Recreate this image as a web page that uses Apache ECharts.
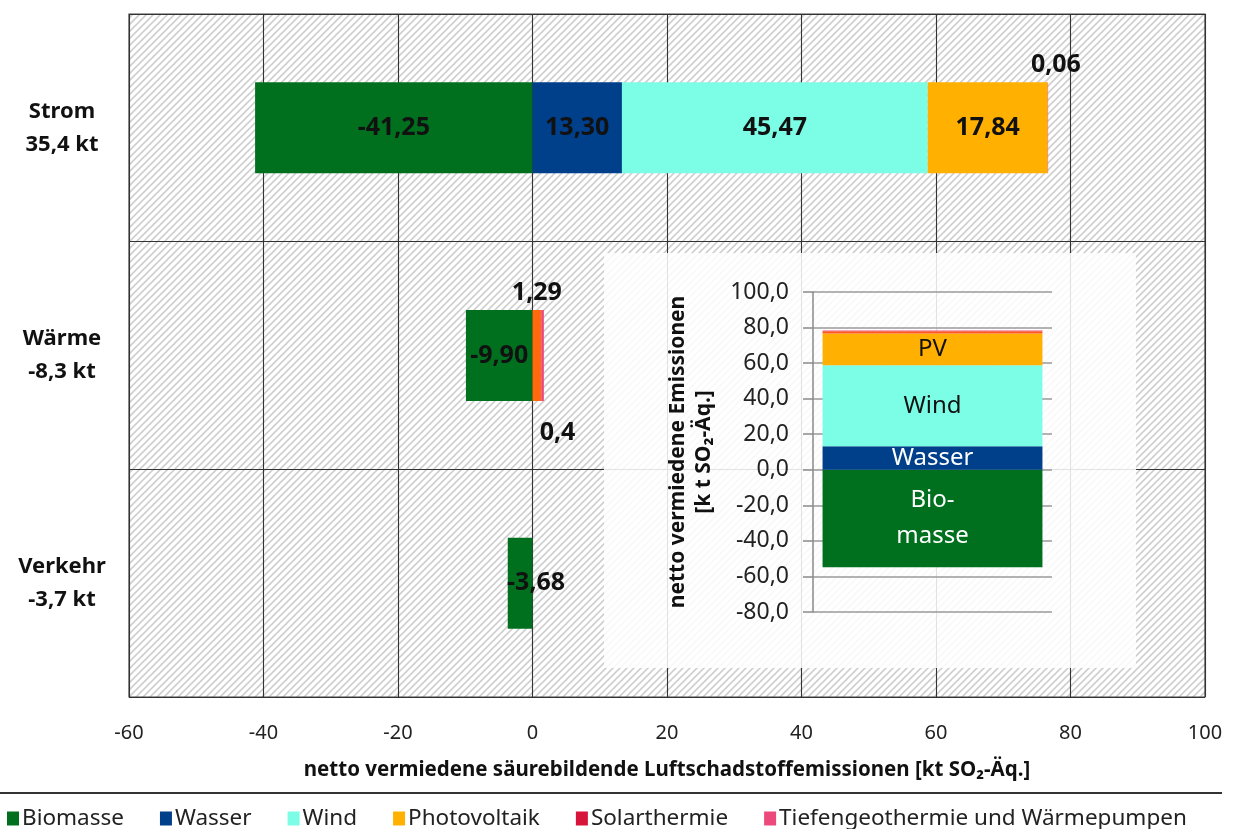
<!DOCTYPE html>
<html><head><meta charset="utf-8">
<script src="https://cdn.jsdelivr.net/npm/echarts@6/dist/echarts.min.js"></script>
<style>html,body{margin:0;padding:0;background:#fff}#c{width:1235px;height:829px}</style>
</head><body><div id="c"></div>
<script>
// ---- data ----
const sectors = ['Strom', 'Wärme', 'Verkehr'];
const sectorLabels = ['Strom\n35,4 kt', 'Wärme\n-8,3 kt', 'Verkehr\n-3,7 kt'];
const biomasse = [-41.25, -9.90, -3.68];
const wasser = [13.30, 0, 0];
const wind = [45.47, 0, 0];
const photovoltaik = [17.84, 0, 0];
const solarthermie = [0, 1.29, 0];
const tiefengeo = [0.06, 0.4, 0];
const xTicks = [-60, -40, -20, 0, 20, 40, 60, 80, 100];
const insetTicks = [-80, -60, -40, -20, 0, 20, 40, 60, 80, 100];
const seriesNames = ['Biomasse', 'Wasser', 'Wind', 'Photovoltaik', 'Solarthermie', 'Tiefengeothermie und Wärmepumpen'];
const seriesData = [biomasse, wasser, wind, photovoltaik, solarthermie, tiefengeo];

// ---- styles ----
const colors = ['#00701f', '#003f8a', '#7bfde6', '#ffb000', '#d7153a', '#ec4a7c'];
const FONT = 'Noto Sans';
const fmt2 = v => v.toFixed(2).replace('.', ',');
const fmtLbl = v => (Math.round(v * 100) / 100).toString().replace('.', ',');

// hatch pattern
const pc = document.createElement('canvas');
pc.width = 7; pc.height = 7;
const px = pc.getContext('2d');
px.fillStyle = '#ffffff'; px.fillRect(0, 0, 7, 7);
px.strokeStyle = '#cfcfcf'; px.lineWidth = 1.6;
px.beginPath();
px.moveTo(-1, 8); px.lineTo(8, -1);
px.moveTo(-4, 4); px.lineTo(4, -4);
px.moveTo(3, 11); px.lineTo(11, 3);
px.stroke();

const lblBase = {show: true, fontFamily: FONT, fontWeight: 'bold', fontSize: 25, color: '#111'};
// label settings per series & category index
const labelOpts = {
  0: {0: {position: 'inside'}, 1: {position: 'inside'}, 2: {position: 'inside', offset: [16, 0]}},
  1: {0: {position: 'inside'}},
  2: {0: {position: 'inside'}},
  3: {0: {position: 'inside'}},
  4: {1: {position: 'top', offset: [0, 0]}},
  5: {0: {position: 'top', offset: [8, 0], formatter: p => fmt2(p.value)}, 1: {position: 'bottom', offset: [15, 14], formatter: p => fmtLbl(p.value)}}
};
const itemColorOverride = {4: {1: '#ff6a0d'}};

const mainSeries = seriesData.map((arr, si) => ({
  name: seriesNames[si], type: 'bar', stack: 'total', xAxisIndex: 0, yAxisIndex: 0,
  barWidth: '40%', z: 3,
  itemStyle: {color: colors[si]},
  data: arr.map((v, i) => {
    const item = {value: v === 0 ? '-' : v};
    const lo = labelOpts[si] && labelOpts[si][i];
    item.label = lo ? Object.assign({}, lblBase, {formatter: p => fmt2(p.value)}, lo) : {show: false};
    const co = itemColorOverride[si] && itemColorOverride[si][i];
    if (co) item.itemStyle = {color: co};
    return item;
  })
}));

// inset sums
const sum = a => a.reduce((s, v) => s + v, 0);
const insetLabels = ['Bio-\nmasse', 'Wasser', 'Wind', 'PV', '', ''];
const insetLabelColor = ['#fff', '#fff', '#111', '#111', '#111', '#111'];
const insetColors = ['#00701f', '#003f8a', '#7bfde6', '#ffb000', '#ff5a1a', '#ec4a7c'];
const insetSeries = seriesData.map((arr, si) => ({
  name: 'inset_' + si, type: 'bar', stack: 'inset', xAxisIndex: 1, yAxisIndex: 1,
  barWidth: '92%', z: 5,
  itemStyle: {color: insetColors[si]},
  label: {show: insetLabels[si] !== '', formatter: insetLabels[si], position: 'inside',
    fontFamily: FONT, fontSize: 24, color: insetLabelColor[si], lineHeight: 36},
  data: [sum(arr)]
}));

const chart = echarts.init(document.getElementById('c'));
chart.setOption({
  animation: false,
  textStyle: {fontFamily: FONT},
  grid: [
    {left: 129, right: 30, top: 14, bottom: 132, show: true,
      backgroundColor: {image: pc, repeat: 'repeat'}, borderColor: '#444', borderWidth: 1.2},
    {left: 813, top: 292, width: 239, height: 320, show: false, z: 4}
  ],
  xAxis: [
    {type: 'value', gridIndex: 0, min: xTicks[0], max: xTicks[xTicks.length - 1], interval: 20,
      axisLine: {show: false}, axisTick: {show: false},
      splitLine: {show: true, lineStyle: {color: '#333', width: 1.1}},
      axisLabel: {fontFamily: FONT, fontSize: 20, color: '#222', margin: 26, formatter: v => String(v)},
      name: 'netto vermiedene säurebildende Luftschadstoffemissionen [kt SO₂-Äq.]',
      nameLocation: 'middle', nameGap: 63,
      nameTextStyle: {fontFamily: FONT, fontWeight: 'bold', fontSize: 20.5, color: '#111'}},
    {type: 'category', gridIndex: 1, data: ['x'], show: false}
  ],
  yAxis: [
    {type: 'category', gridIndex: 0, data: sectors, inverse: true,
      axisLine: {show: false}, axisTick: {show: false},
      splitLine: {show: true, lineStyle: {color: '#333', width: 1.1}},
      axisLabel: {fontFamily: FONT, fontWeight: 'bold', fontSize: 22, color: '#111', lineHeight: 33,
        align: 'center', margin: 67, formatter: (v, i) => sectorLabels[i]}},
    {type: 'value', gridIndex: 1, min: insetTicks[0], max: insetTicks[insetTicks.length - 1], interval: 20, z: 5,
      axisLine: {show: true, lineStyle: {color: '#8a8a8a', width: 1.5}},
      axisTick: {show: true, inside: false, length: 10, lineStyle: {color: '#8a8a8a', width: 1.5}},
      splitLine: {show: true, lineStyle: {color: '#9a9a9a', width: 1.5}},
      axisLabel: {fontFamily: FONT, fontSize: 23, color: '#222', margin: 24, formatter: v => v.toFixed(1).replace('.', ',')},
      name: 'netto vermiedene Emissionen\n[k t SO₂-Äq.]', nameLocation: 'middle', nameGap: 96, nameRotate: 90,
      nameTextStyle: {fontFamily: FONT, fontWeight: 'bold', fontSize: 21, color: '#111', lineHeight: 26}}
  ],
  legend: {
    data: seriesNames, left: 2, top: 802, icon: 'rect', itemWidth: 12, itemHeight: 14, itemGap: 36,
    textStyle: {fontFamily: FONT, fontSize: 22.5, color: '#222', padding: [0, 0, 0, -2]}
  },
  graphic: [
    {type: 'rect', shape: {x: 604, y: 253, width: 532, height: 415}, style: {fill: 'rgba(255,255,255,0.86)'}, z: 1, silent: true},
    {type: 'line', shape: {x1: 0, y1: 793, x2: 1222, y2: 793}, style: {stroke: '#333', lineWidth: 2}, z: 1}
  ],
  series: mainSeries.concat(insetSeries)
});
</script></body></html>
